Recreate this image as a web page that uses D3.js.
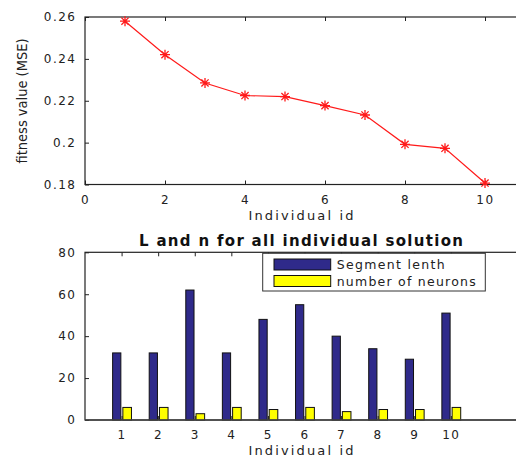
<!DOCTYPE html>
<html>
<head>
<meta charset="utf-8">
<script src="https://cdn.jsdelivr.net/npm/d3@7"></script>
<style>
  html, body { margin: 0; padding: 0; background: #fff; }
  svg { display: block; }
  text { font-family: "DejaVu Sans", sans-serif; fill: #222; }
</style>
</head>
<body>
<svg id="chart" width="516" height="459"></svg>
<script>
// ---- data ----
const individualIds = [1, 2, 3, 4, 5, 6, 7, 8, 9, 10];
const fitnessMSE = [0.258, 0.242, 0.2285, 0.2225, 0.222, 0.2177, 0.2132, 0.1992, 0.1973, 0.1807];
const segmentLength = [32, 32, 62, 32, 48, 55, 40, 34, 29, 51];
const numberOfNeurons = [6, 6, 3, 6, 5, 6, 4, 5, 5, 6];
const topXTicks = [0, 2, 4, 6, 8, 10];
const topYTicks = [0.18, 0.2, 0.22, 0.24, 0.26];
const topYTickLabels = ["0.18", "0.2", "0.22", "0.24", "0.26"];
const bottomYTicks = [0, 20, 40, 60, 80];
const seriesNames = ["Segment lenth", "number of neurons"];
const seriesColors = ["#2f2a8a", "#ffff00"];

const svg = d3.select("#chart");
svg.append("rect").attr("width", 516).attr("height", 459).attr("fill", "#fff");

function styleAxis(g) {
  g.select(".domain").remove();
  g.selectAll(".tick line").attr("stroke", "#222");
  g.selectAll(".tick text")
    .attr("font-size", 12)
    .attr("font-family", "DejaVu Sans, sans-serif")
    .attr("letter-spacing", 1.5)
    .attr("fill", "#222");
}

// ---- top chart ----
const x1 = d3.scaleLinear().domain([0, 11]).range([85, 525]);
const y1 = d3.scaleLinear().domain([0.18, 0.26]).range([184.5, 17]);

svg.append("g").attr("transform", `translate(0,${y1.range()[0]})`)
  .call(d3.axisBottom(x1).tickValues(topXTicks).tickSizeInner(-4).tickSizeOuter(0).tickPadding(11).tickFormat(d3.format("d")))
  .call(styleAxis);
svg.append("g").attr("transform", `translate(0,${y1.range()[1]})`)
  .call(d3.axisTop(x1).tickValues(topXTicks).tickSizeInner(-4).tickSizeOuter(0).tickFormat(""))
  .call(styleAxis);
svg.append("g").attr("transform", `translate(${x1.range()[0]},0)`)
  .call(d3.axisLeft(y1).tickValues(topYTicks).tickSizeInner(-4).tickSizeOuter(0).tickPadding(8.5)
    .tickFormat((d, i) => topYTickLabels[i]))
  .call(styleAxis);
svg.append("g").attr("transform", `translate(${x1.range()[1]},0)`)
  .call(d3.axisRight(y1).tickValues(topYTicks).tickSizeInner(-4).tickSizeOuter(0).tickFormat(""))
  .call(styleAxis);

svg.append("rect")
  .attr("x", x1.range()[0]).attr("y", y1.range()[1])
  .attr("width", x1.range()[1] - x1.range()[0]).attr("height", y1.range()[0] - y1.range()[1])
  .attr("fill", "none").attr("stroke", "#222").attr("stroke-width", 1.2);

const line = d3.line().x((d, i) => x1(individualIds[i])).y(d => y1(d));
svg.append("path").datum(fitnessMSE)
  .attr("d", line).attr("fill", "none").attr("stroke", "#ff1a1a").attr("stroke-width", 1.2);

const r = 5;
const starPath = `M${-r},0L${r},0M0,${-r}L0,${r}M${-r*0.72},${-r*0.72}L${r*0.72},${r*0.72}M${-r*0.72},${r*0.72}L${r*0.72},${-r*0.72}`;
svg.append("g").selectAll("path").data(fitnessMSE).join("path")
  .attr("transform", (d, i) => `translate(${x1(individualIds[i])},${y1(d)})`)
  .attr("d", starPath).attr("stroke", "#ff1a1a").attr("stroke-width", 1.3).attr("fill", "none");

svg.append("text").attr("x", 301).attr("y", 220).attr("text-anchor", "middle")
  .attr("font-size", 13).attr("textLength", 105).attr("lengthAdjust", "spacing")
  .text("Individual id");

svg.append("text").attr("transform", "translate(27,101) rotate(-90)").attr("text-anchor", "middle")
  .attr("font-size", 14).attr("textLength", 125).attr("lengthAdjust", "spacingAndGlyphs")
  .text("fitness value (MSE)");

// ---- bottom chart ----
const x2 = d3.scaleLinear().domain([0, 12]).range([85, 524]);
const y2 = d3.scaleLinear().domain([0, 80]).range([420, 252.3]);

svg.append("g").attr("transform", `translate(0,${y2.range()[0]})`)
  .call(d3.axisBottom(x2).tickValues(individualIds).tickSizeInner(-4).tickSizeOuter(0).tickPadding(10.5).tickFormat(d3.format("d")))
  .call(styleAxis);
svg.append("g").attr("transform", `translate(0,${y2.range()[1]})`)
  .call(d3.axisTop(x2).tickValues(individualIds).tickSizeInner(-4).tickSizeOuter(0).tickFormat(""))
  .call(styleAxis);
svg.append("g").attr("transform", `translate(${x2.range()[0]},0)`)
  .call(d3.axisLeft(y2).tickValues(bottomYTicks).tickSizeInner(-4).tickSizeOuter(0).tickPadding(8.5).tickFormat(d3.format("d")))
  .call(styleAxis);
svg.append("g").attr("transform", `translate(${x2.range()[1]},0)`)
  .call(d3.axisRight(y2).tickValues(bottomYTicks).tickSizeInner(-4).tickSizeOuter(0).tickFormat(""))
  .call(styleAxis);

svg.append("rect")
  .attr("x", x2.range()[0]).attr("y", y2.range()[1])
  .attr("width", x2.range()[1] - x2.range()[0]).attr("height", y2.range()[0] - y2.range()[1])
  .attr("fill", "none").attr("stroke", "#222").attr("stroke-width", 1.2);

const barSeries = [segmentLength, numberOfNeurons];
const barOffsets = [[-0.245, -0.02], [0.035, 0.27]];
barSeries.forEach((vals, s) => {
  svg.append("g").selectAll("rect").data(vals).join("rect")
    .attr("x", (d, i) => x2(individualIds[i] + barOffsets[s][0]))
    .attr("width", (d, i) => x2(individualIds[i] + barOffsets[s][1]) - x2(individualIds[i] + barOffsets[s][0]))
    .attr("y", d => y2(d))
    .attr("height", d => y2(0) - y2(d))
    .attr("fill", seriesColors[s]).attr("stroke", "#111").attr("stroke-width", 1);
});
// baseline
svg.append("line").attr("x1", x2.range()[0]).attr("x2", x2.range()[1])
  .attr("y1", y2(0)).attr("y2", y2(0)).attr("stroke", "#444").attr("stroke-width", 1.5);

svg.append("text").attr("x", 301).attr("y", 246).attr("text-anchor", "middle")
  .attr("font-family", "Liberation Sans, Arial, sans-serif")
  .attr("font-size", 15).attr("font-weight", "bold").attr("textLength", 324).attr("lengthAdjust", "spacing")
  .style("fill", "#111")
  .text("L and n for all individual solution");

svg.append("text").attr("x", 301).attr("y", 455).attr("text-anchor", "middle")
  .attr("font-size", 13).attr("textLength", 105).attr("lengthAdjust", "spacing")
  .text("Individual id");

// legend
const lg = svg.append("g");
lg.append("rect").attr("x", 262.7).attr("y", 253.3).attr("width", 222.6).attr("height", 37.7)
  .attr("fill", "#fff").attr("stroke", "#333").attr("stroke-width", 1);
const legendTextLen = [108, 139];
seriesNames.forEach((name, i) => {
  const yy = 259 + i * 16.5;
  lg.append("rect").attr("x", 274).attr("y", yy).attr("width", 56.7).attr("height", 11)
    .attr("fill", seriesColors[i]).attr("stroke", "#111").attr("stroke-width", 1);
  lg.append("text").attr("x", 336.7).attr("y", yy + 10).attr("font-size", 12.5)
    .attr("textLength", legendTextLen[i]).attr("lengthAdjust", "spacing")
    .text(name);
});
</script>
</body>
</html>
